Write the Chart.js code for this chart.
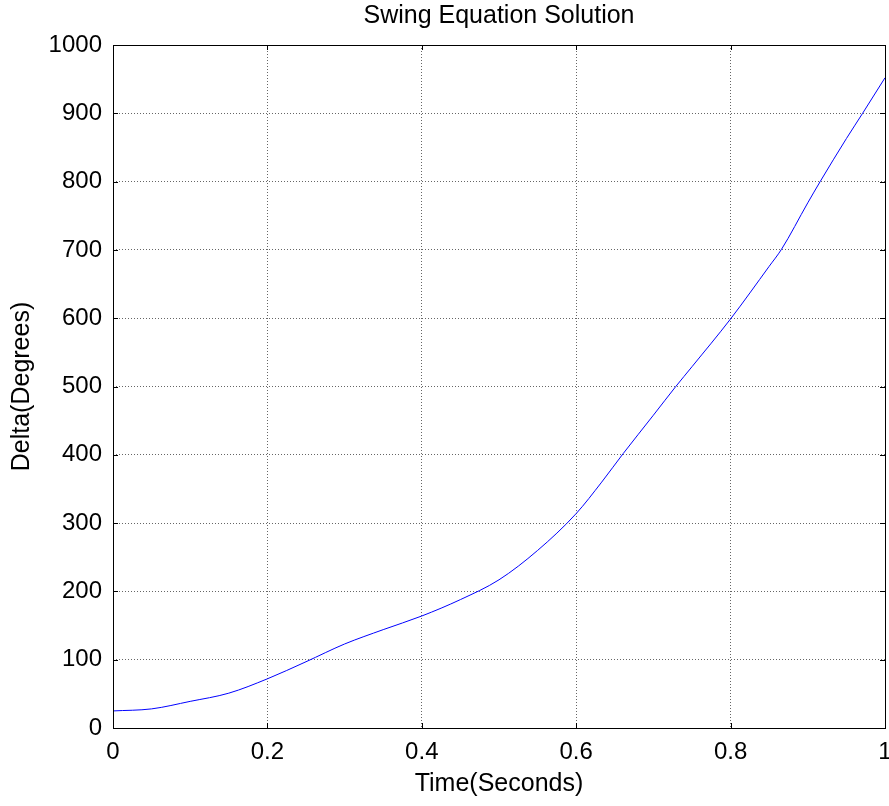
<!DOCTYPE html>
<html>
<head>
<meta charset="utf-8">
<script src="https://cdn.jsdelivr.net/npm/chart.js@4/dist/chart.umd.min.js"></script>
<style>
  html, body { margin: 0; padding: 0; background: #fff; }
  #wrap { width: 889px; height: 806px; }
</style>
</head>
<body>
<div id="wrap"><canvas id="c" width="889" height="806"></canvas></div>
<script>
const timeSeconds = [0, 0.05, 0.1, 0.15, 0.2, 0.25, 0.3, 0.35, 0.4, 0.45, 0.5, 0.55, 0.6, 0.633, 0.661, 0.7, 0.729, 0.75, 0.8, 0.85, 0.866, 0.9, 0.916, 0.95, 0.971, 1.0];
const deltaDegrees = [25, 28, 39, 51, 72, 97, 123, 144, 164, 188, 217, 260, 314, 360, 402, 458, 500, 529, 599, 676, 701, 769, 800, 863, 900, 952];
const xTickLabels = ['0', '0.2', '0.4', '0.6', '0.8', '1'];
const yTickLabels = ['0', '100', '200', '300', '400', '500', '600', '700', '800', '900', '1000'];

const FONT = "'Liberation Sans', Arial, sans-serif";

const framePlugin = {
  id: 'frame',
  afterLayout(chart) {
    const tb = chart.titleBlock;
    if (tb) { tb.left = chart.chartArea.left; tb.right = chart.chartArea.right; tb.width = tb.right - tb.left; }
  },
  afterDatasetsDraw(chart) {
    const ctx = chart.ctx;
    const a = chart.chartArea;
    const xs = chart.scales.x, ys = chart.scales.y;
    const L = 5;
    ctx.save();
    ctx.strokeStyle = '#000';
    ctx.lineWidth = 1;
    ctx.setLineDash([]);
    ctx.strokeRect(Math.round(a.left) + 0.5, Math.round(a.top) + 0.5, Math.round(a.right - a.left), Math.round(a.bottom - a.top));
    ctx.beginPath();
    xs.ticks.forEach(t => {
      const px = Math.round(xs.getPixelForValue(t.value)) + 0.5;
      ctx.moveTo(px, a.bottom); ctx.lineTo(px, a.bottom - L);
      ctx.moveTo(px, a.top); ctx.lineTo(px, a.top + L);
    });
    ys.ticks.forEach(t => {
      const py = Math.round(ys.getPixelForValue(t.value)) + 0.5;
      ctx.moveTo(a.left, py); ctx.lineTo(a.left + L, py);
      ctx.moveTo(a.right, py); ctx.lineTo(a.right - L, py);
    });
    ctx.stroke();
    ctx.restore();
  }
};

new Chart(document.getElementById('c'), {
  type: 'line',
  data: {
    datasets: [{
      data: timeSeconds.map((t, i) => ({ x: t, y: deltaDegrees[i] })),
      borderColor: '#0000ff',
      borderWidth: 1,
      pointRadius: 0,
      fill: false,
      cubicInterpolationMode: 'monotone'
    }]
  },
  plugins: [framePlugin],
  options: {
    responsive: false,
    animation: false,
    devicePixelRatio: 1,
    layout: { padding: { left: 0, right: 4, top: 0, bottom: 0 } },
    plugins: {
      legend: { display: false },
      tooltip: { enabled: false },
      title: {
        display: true,
        text: 'Swing Equation Solution',
        color: '#000',
        font: { family: FONT, size: 25, weight: 'normal' },
        padding: { top: 1, bottom: 14 }
      }
    },
    scales: {
      x: {
        type: 'linear',
        min: 0, max: 1,
        ticks: {
          stepSize: 0.2,
          color: '#000',
          font: { family: FONT, size: 24 },
          padding: 10,
          maxRotation: 0,
          callback: (v) => { const i = Math.round(v / 0.2); return xTickLabels[i] !== undefined ? xTickLabels[i] : ''; }
        },
        grid: { color: '#666', lineWidth: 1, drawTicks: false },
        border: { display: false, dash: [1, 2] },
        title: {
          display: true,
          text: 'Time(Seconds)',
          color: '#000',
          font: { family: FONT, size: 25 },
          padding: { top: 0, bottom: 7 }
        },
        afterFit: (s) => { s.height = 78; s.paddingLeft = 0; s.paddingRight = 0; }
      },
      y: {
        type: 'linear',
        min: 0, max: 1000,
        ticks: {
          stepSize: 100,
          color: '#000',
          font: { family: FONT, size: 24 },
          padding: 11,
          callback: (v) => { const i = Math.round(v / 100); return yTickLabels[i] !== undefined ? yTickLabels[i] : ''; }
        },
        grid: { color: '#666', lineWidth: 1, drawTicks: false },
        border: { display: false, dash: [1, 2] },
        title: {
          display: true,
          text: 'Delta(Degrees)',
          color: '#000',
          font: { family: FONT, size: 25 },
          padding: { top: 7, bottom: 0 }
        },
        afterFit: (s) => { s.width = 113; s.paddingTop = 0; s.paddingBottom = 0; }
      }
    }
  }
});
</script>
</body>
</html>
